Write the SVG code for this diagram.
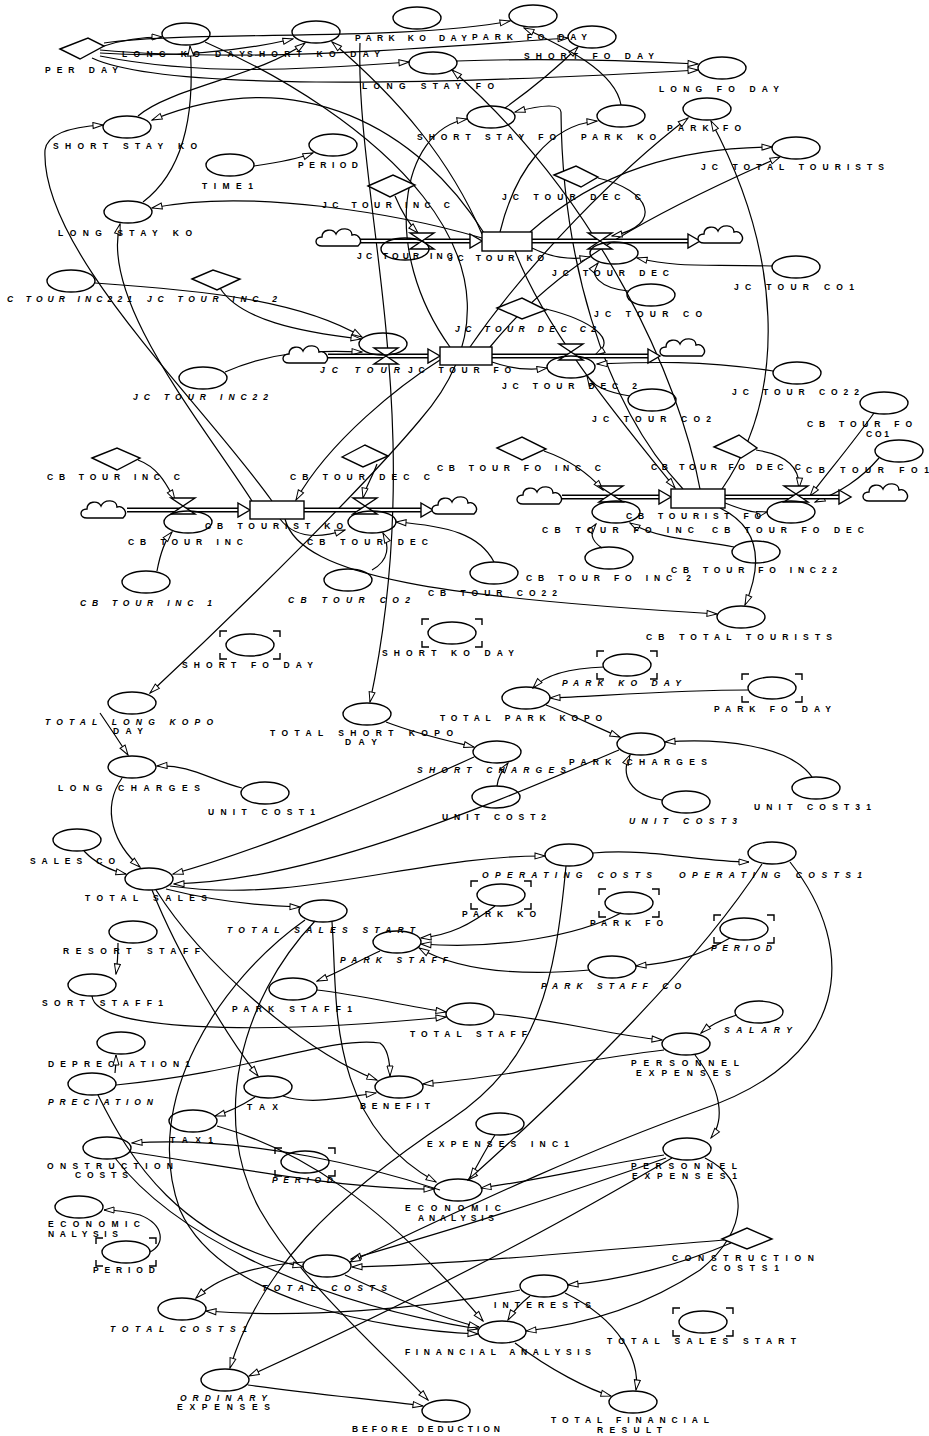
<svg xmlns="http://www.w3.org/2000/svg" width="929" height="1436" viewBox="0 0 929 1436">
<style>
text{font-family:"Liberation Sans",Arial,sans-serif;font-size:8.5px;font-weight:bold;fill:#000}
.i{font-style:italic}
.v{fill:none;stroke:#000;stroke-width:1.4}
.d{fill:#fff;stroke:#000;stroke-width:1.4}
.c path{fill:none;stroke:#000;stroke-width:1.2;marker-end:url(#ah)}
.p1{fill:none;stroke:#000;stroke-width:5}
.p2{fill:none;stroke:#fff;stroke-width:2}
</style>
<defs>
<marker id="ah" viewBox="0 0 12 8" refX="11" refY="4" markerWidth="12" markerHeight="8" markerUnits="userSpaceOnUse" orient="auto"><path d="M1,1 L11,4 L1,7 Z" fill="#fff" stroke="#000" stroke-width="1"/></marker>
<path id="cloud" class="d" d="M-18,7 C-26,7 -26,-2 -18,-2 C-18,-10 -7,-11 -4,-5 C-1,-12 12,-12 12,-4 C18,-6 24,2 18,7 Z"/>
<path id="valve" class="d" d="M-12,-8 H12 L-12,8 H12 Z"/>
<path id="parr" class="d" d="M-12,-7 L0,0 L-12,7 Z"/>
<path id="brk" fill="none" stroke="#000" stroke-width="1.4" d="M-30,-8 V-14 H-23 M23,-14 H30 V-8 M30,8 V14 H23 M-23,14 H-30 V8"/>
</defs>
<rect width="929" height="1436" fill="#fff"/>

<g id="connectors" class="c">
<path d="M104,46 Q132,37 162,37"/>
<path d="M100,53 Q200,60 293,39"/>
<path d="M92,58 C160,90 420,86 698,70"/>
<path d="M457,61 C540,58 620,60 698,64"/>
<path d="M104,43 C200,30 400,42 510,21"/>
<path d="M100,50 C260,64 450,46 568,38"/>
<path d="M143,202 C185,170 195,110 190,46"/>
<path d="M138,116 C170,88 260,76 305,43"/>
<path d="M484,233 C420,130 300,60 152,120"/>
<path d="M272,501 C200,400 40,250 45,150 Q48,128 103,125"/>
<path d="M252,501 C200,420 100,300 120,224"/>
<path d="M482,238 C400,214 250,188 152,208"/>
<path d="M360,43 C355,200 430,420 370,702"/>
<path d="M205,42 C360,110 560,260 420,420 C370,480 250,600 150,693"/>
<path d="M530,232 C600,170 680,148 772,147"/>
<path d="M490,347 C560,260 660,210 780,157"/>
<path d="M500,232 C515,170 550,125 597,121"/>
<path d="M470,347 C530,260 620,170 688,118"/>
<path d="M722,489 C790,390 780,250 711,121"/>
<path d="M683,489 C600,400 562,250 561,112 Q560,100 515,112"/>
<path d="M700,489 C680,380 600,200 452,70"/>
<path d="M505,108 C530,90 560,65 578,47"/>
<path d="M621,105 C615,70 560,45 524,28"/>
<path d="M100,56 C200,76 300,70 409,62"/>
<path d="M254,166 C275,163 295,160 313,153"/>
<path d="M482,234 C450,160 400,100 332,42"/>
<path d="M450,347 C380,250 400,130 467,119"/>
<path d="M395,196 Q405,220 418,233"/>
<path d="M598,178 C650,190 665,225 612,236"/>
<path d="M772,266 C700,264 680,268 637,258"/>
<path d="M628,291 C600,288 588,275 598,263"/>
<path d="M532,248 Q560,262 590,257"/>
<path d="M220,288 C240,320 300,332 361,339"/>
<path d="M95,283 C200,290 300,300 362,337"/>
<path d="M225,372 C270,352 310,350 362,352"/>
<path d="M546,309 C590,320 620,340 595,355"/>
<path d="M773,371 C700,360 650,362 597,364"/>
<path d="M630,396 C605,392 592,385 587,376"/>
<path d="M492,362 Q520,372 547,368"/>
<path d="M138,460 C160,468 168,488 175,500"/>
<path d="M157,571 C160,555 165,540 172,532"/>
<path d="M377,464 C372,478 365,488 363,498"/>
<path d="M372,570 C390,560 389,545 383,533"/>
<path d="M494,562 C480,535 450,526 396,522"/>
<path d="M280,519 Q300,545 345,530"/>
<path d="M285,519 C300,578 450,598 717,614"/>
<path d="M720,508 C765,530 760,570 745,605"/>
<path d="M544,451 C570,460 590,475 603,490"/>
<path d="M602,548 C590,540 590,532 596,524"/>
<path d="M734,547 C700,540 660,540 630,523"/>
<path d="M756,450 C790,455 800,470 799,488"/>
<path d="M874,413 C855,440 830,470 810,496"/>
<path d="M879,458 C860,480 840,492 815,502"/>
<path d="M725,503 Q755,515 767,512"/>
<path d="M440,360 C400,385 330,440 296,500"/>
<path d="M515,251 C545,330 620,420 675,488"/>
<path d="M100,713 Q115,735 128,755"/>
<path d="M242,788 C210,780 190,764 157,766"/>
<path d="M122,778 C100,810 115,845 140,867"/>
<path d="M84,851 Q100,868 126,874"/>
<path d="M474,757 C380,800 260,850 173,874"/>
<path d="M619,750 C500,800 320,880 174,884"/>
<path d="M170,886 C300,905 420,855 545,856"/>
<path d="M593,853 C650,848 700,862 749,862"/>
<path d="M166,889 Q230,905 300,907"/>
<path d="M386,722 C420,735 445,740 474,747"/>
<path d="M497,786 C498,776 503,770 508,763"/>
<path d="M546,705 C575,716 598,728 620,737"/>
<path d="M662,800 C630,795 620,775 630,755"/>
<path d="M812,777 C790,745 720,738 665,742"/>
<path d="M604,667 C570,668 545,675 533,688"/>
<path d="M748,690 C680,690 600,696 550,698"/>
<path d="M332,922 C338,1000 325,1120 436,1182"/>
<path d="M305,920 C220,980 140,1100 180,1210 C220,1300 380,1330 478,1334"/>
<path d="M315,921 C240,1000 210,1120 260,1210 C300,1280 380,1350 428,1400"/>
<path d="M152,890 C180,960 230,1040 258,1076"/>
<path d="M156,890 C200,960 300,1050 377,1080"/>
<path d="M730,938 C700,955 680,962 636,966"/>
<path d="M590,970 C520,976 460,972 419,948"/>
<path d="M495,906 C470,925 450,935 421,938"/>
<path d="M621,913 C580,935 500,950 421,944"/>
<path d="M380,951 C360,960 340,972 317,981"/>
<path d="M118,943 Q118,960 116,974"/>
<path d="M92,996 C95,1030 250,1036 446,1017"/>
<path d="M317,990 C360,995 400,1005 446,1012"/>
<path d="M494,1014 C560,1020 610,1035 662,1040"/>
<path d="M737,1015 C720,1020 710,1025 701,1033"/>
<path d="M664,1050 C580,1060 500,1078 423,1084"/>
<path d="M695,1055 C722,1090 725,1120 711,1138"/>
<path d="M115,1073 Q116,1065 116,1055"/>
<path d="M116,1085 C250,1072 330,1036 380,1043 Q390,1050 390,1076"/>
<path d="M283,1096 C310,1105 340,1098 376,1093"/>
<path d="M255,1097 Q235,1110 215,1116"/>
<path d="M217,1126 C300,1150 380,1200 483,1321"/>
<path d="M440,1190 C380,1170 250,1135 132,1143"/>
<path d="M98,1095 C130,1160 180,1240 303,1267"/>
<path d="M130,1152 C250,1170 350,1190 434,1189"/>
<path d="M115,1158 C170,1230 300,1300 478,1329"/>
<path d="M150,1252 C165,1245 165,1225 140,1215 Q120,1210 104,1210"/>
<path d="M664,1155 C600,1165 540,1180 481,1188"/>
<path d="M762,864 C700,960 580,1080 468,1180"/>
<path d="M566,866 C555,980 540,1060 450,1120 C330,1200 260,1270 230,1368"/>
<path d="M672,1158 C600,1200 480,1270 249,1376"/>
<path d="M248,1385 C320,1395 380,1400 423,1406"/>
<path d="M304,1262 C260,1265 220,1275 196,1298"/>
<path d="M520,1290 C420,1310 300,1318 206,1311"/>
<path d="M666,1158 C550,1200 450,1230 351,1259"/>
<path d="M724,1240 C600,1250 450,1265 352,1267"/>
<path d="M345,1275 C400,1300 440,1318 479,1327"/>
<path d="M530,1296 Q515,1308 508,1320"/>
<path d="M731,1243 C680,1265 620,1280 568,1285"/>
<path d="M705,1158 C750,1180 750,1230 700,1270 C640,1310 580,1325 526,1331"/>
<path d="M515,1343 C550,1370 590,1390 611,1396"/>
<path d="M565,1293 C620,1320 640,1360 636,1390"/>
<path d="M790,862 C860,950 850,1060 700,1110 C560,1160 420,1230 350,1262"/>
<path d="M495,1135 C485,1150 478,1165 470,1178"/>
</g>

<g id="flows">
<path class="p1" d="M360,241 H472 M532,241 H690"/><path class="p2" d="M360,241 H472 M532,241 H690"/>
<use href="#parr" x="482" y="241"/><use href="#parr" x="700" y="241"/>
<path class="p1" d="M328,356 H430 M492,356 H650"/><path class="p2" d="M328,356 H430 M492,356 H650"/>
<use href="#parr" x="440" y="356"/><use href="#parr" x="660" y="356"/>
<path class="p1" d="M127,510 H240 M304,510 H423"/><path class="p2" d="M127,510 H240 M304,510 H423"/>
<use href="#parr" x="250" y="510"/><use href="#parr" x="433" y="510"/>
<path class="p1" d="M562,497 H661 M725,497 H841"/><path class="p2" d="M562,497 H661 M725,497 H841"/>
<use href="#parr" x="671" y="497"/><use href="#parr" x="851" y="497"/>
</g>

<g id="clouds">
<use href="#cloud" x="340" y="239"/><use href="#cloud" x="722" y="236"/>
<use href="#cloud" x="307" y="356"/><use href="#cloud" x="684" y="349"/>
<use href="#cloud" x="105" y="511"/><use href="#cloud" x="456" y="507"/>
<use href="#cloud" x="541" y="497"/><use href="#cloud" x="887" y="494"/>
</g>

<g id="n-per-day"><polygon class="d" points="60,49 88,38 104,46 80,59"/><text x="45" y="73" textLength="73" lengthAdjust="spacing">PER DAY</text></g>
<g id="n-long-ko-day"><ellipse class="v" cx="186" cy="34" rx="24" ry="11"/><text x="122" y="57" textLength="123" lengthAdjust="spacing">LONG KO DAY</text></g>
<g id="n-short-ko-day"><ellipse class="v" cx="316" cy="32" rx="24" ry="11"/><text x="247" y="57" textLength="133" lengthAdjust="spacing">SHORT KO DAY</text></g>
<g id="n-park-ko-day"><ellipse class="v" cx="417" cy="18" rx="24" ry="11"/><text x="355" y="41" textLength="112" lengthAdjust="spacing">PARK KO DAY</text></g>
<g id="n-long-stay-fo"><ellipse class="v" cx="433" cy="63" rx="24" ry="11"/><text x="362" y="89" textLength="132" lengthAdjust="spacing">LONG STAY FO</text></g>
<g id="n-park-fo-day"><ellipse class="v" cx="533" cy="16" rx="24" ry="11"/><text x="472" y="40" textLength="115" lengthAdjust="spacing">PARK FO DAY</text></g>
<g id="n-short-fo-day"><ellipse class="v" cx="592" cy="37" rx="24" ry="11"/><text x="524" y="59" textLength="130" lengthAdjust="spacing">SHORT FO DAY</text></g>
<g id="n-long-fo-day"><ellipse class="v" cx="722" cy="68" rx="24" ry="11"/><text x="659" y="92" textLength="120" lengthAdjust="spacing">LONG FO DAY</text></g>
<g id="n-park-fo"><ellipse class="v" cx="707" cy="109" rx="24" ry="11"/><text x="667" y="131" textLength="74" lengthAdjust="spacing">PARK FO</text></g>
<g id="n-short-stay-fo"><ellipse class="v" cx="491" cy="117" rx="24" ry="11"/><text x="417" y="140" textLength="139" lengthAdjust="spacing">SHORT STAY FO</text></g>
<g id="n-park-ko"><ellipse class="v" cx="621" cy="116" rx="24" ry="11"/><text x="581" y="140" textLength="75" lengthAdjust="spacing">PARK KO</text></g>
<g id="n-jc-total-tourists"><ellipse class="v" cx="796" cy="148" rx="24" ry="11"/><text x="701" y="170" textLength="183" lengthAdjust="spacing">JC TOTAL TOURISTS</text></g>
<g id="n-short-stay-ko"><ellipse class="v" cx="127" cy="127" rx="24" ry="11"/><text x="53" y="149" textLength="144" lengthAdjust="spacing">SHORT STAY KO</text></g>
<g id="n-period"><ellipse class="v" cx="333" cy="145" rx="24" ry="11"/><text x="298" y="168" textLength="60" lengthAdjust="spacing">PERIOD</text></g>
<g id="n-time1"><ellipse class="v" cx="230" cy="165" rx="24" ry="11"/><text x="202" y="189" textLength="51" lengthAdjust="spacing">TIME1</text></g>
<g id="n-long-stay-ko"><ellipse class="v" cx="128" cy="212" rx="24" ry="11"/><text x="58" y="236" textLength="134" lengthAdjust="spacing">LONG STAY KO</text></g>
<g id="n-jc-tour-inc-c"><polygon class="d" points="368,186 393,175 415,185 390,197"/><text x="322" y="208" textLength="128" lengthAdjust="spacing">JC TOUR INC C</text></g>
<g id="n-jc-tour-dec-c"><polygon class="d" points="554,175 576,166 598,177 581,187"/><text x="502" y="200" textLength="139" lengthAdjust="spacing">JC TOUR DEC C</text></g>
<g id="n-jc-tour-ko"><rect class="d" x="482" y="232" width="50" height="19"/><text x="448" y="261" textLength="96" lengthAdjust="spacing">JC TOUR KO</text></g>
<g id="n-jc-tour-inc"><use href="#valve" x="422" y="241"/><ellipse class="v" cx="405" cy="249" rx="24" ry="11"/><text x="357" y="259" textLength="96" lengthAdjust="spacing">JC TOUR INC</text></g>
<g id="n-jc-tour-dec"><use href="#valve" x="600" y="241"/><ellipse class="v" cx="614" cy="253" rx="24" ry="11"/><text x="552" y="276" textLength="117" lengthAdjust="spacing">JC TOUR DEC</text></g>
<g id="n-jc-tour-co"><ellipse class="v" cx="651" cy="295" rx="24" ry="11"/><text x="594" y="317" textLength="108" lengthAdjust="spacing">JC TOUR CO</text></g>
<g id="n-jc-tour-co1"><ellipse class="v" cx="796" cy="267" rx="24" ry="11"/><text x="734" y="290" textLength="120" lengthAdjust="spacing">JC TOUR CO1</text></g>
<g id="n-jc-tour-inc221"><ellipse class="v" cx="71" cy="281" rx="24" ry="11"/><text class="i" x="7" y="302" textLength="125" lengthAdjust="spacing">C TOUR INC221</text></g>
<g id="n-jc-tour-inc-c2"><polygon class="d" points="192,279 213,270 240,279 217,290"/><text class="i" x="147" y="302" textLength="130" lengthAdjust="spacing">JC TOUR INC 2</text></g>
<g id="n-jc-tour-inc22"><ellipse class="v" cx="203" cy="378" rx="24" ry="11"/><text class="i" x="133" y="400" textLength="135" lengthAdjust="spacing">JC TOUR INC22</text></g>
<g id="n-jc-tour-inc2"><use href="#valve" x="386" y="356"/><ellipse class="v" cx="383" cy="344" rx="24" ry="11"/><text class="i" x="320" y="373" textLength="80" lengthAdjust="spacing">JC TOUR</text></g>
<g id="n-jc-tour-fo"><rect class="d" x="440" y="347" width="52" height="18"/><text x="408" y="373" textLength="103" lengthAdjust="spacing">JC TOUR FO</text></g>
<g id="n-jc-tour-dec-c2"><polygon class="d" points="497,308 522,298 546,310 522,319"/><text class="i" x="455" y="332" textLength="141" lengthAdjust="spacing">JC TOUR DEC C2</text></g>
<g id="n-jc-tour-dec2"><use href="#valve" x="571" y="352"/><ellipse class="v" cx="571" cy="367" rx="24" ry="11"/><text x="502" y="389" textLength="135" lengthAdjust="spacing">JC TOUR DEC 2</text></g>
<g id="n-jc-tour-co2"><ellipse class="v" cx="652" cy="400" rx="24" ry="11"/><text x="592" y="422" textLength="119" lengthAdjust="spacing">JC TOUR CO2</text></g>
<g id="n-jc-tour-co22"><ellipse class="v" cx="797" cy="373" rx="24" ry="11"/><text x="732" y="395" textLength="127" lengthAdjust="spacing">JC TOUR CO22</text></g>

<g id="n-cb-tour-inc-c"><polygon class="d" points="92,458 117,448 140,458 117,470"/><text x="47" y="480" textLength="133" lengthAdjust="spacing">CB TOUR INC C</text></g>
<g id="n-cb-tour-dec-c"><polygon class="d" points="342,457 365,445 388,456 363,467"/><text x="290" y="480" textLength="140" lengthAdjust="spacing">CB TOUR DEC C</text></g>
<g id="n-cb-tour-fo-inc-c"><polygon class="d" points="497,448 522,437 546,449 522,460"/><text x="437" y="471" textLength="164" lengthAdjust="spacing">CB TOUR FO INC C</text></g>
<g id="n-cb-tour-fo-dec-c"><polygon class="d" points="714,447 739,435 757,448 741,458"/><text x="651" y="470" textLength="150" lengthAdjust="spacing">CB TOUR FO DEC C</text></g>
<g id="n-cb-tour-fo-co1"><ellipse class="v" cx="884" cy="403" rx="24" ry="11"/><text x="807" y="427" textLength="105" lengthAdjust="spacing">CB TOUR FO</text><text x="866" y="437" textLength="23" lengthAdjust="spacing">CO1</text></g>
<g id="n-cb-tour-fo1"><ellipse class="v" cx="899" cy="451" rx="24" ry="11"/><text x="806" y="473" textLength="123" lengthAdjust="spacing">CB TOUR FO1</text></g>
<g id="n-cb-tourist-ko"><rect class="d" x="250" y="501" width="54" height="18"/><text x="205" y="529" textLength="138" lengthAdjust="spacing">CB TOURIST KO</text></g>
<g id="n-cb-tour-inc"><use href="#valve" x="183" y="506"/><ellipse class="v" cx="188" cy="522" rx="24" ry="11"/><text x="128" y="545" textLength="115" lengthAdjust="spacing">CB TOUR INC</text></g>
<g id="n-cb-tour-dec"><use href="#valve" x="365" y="506"/><ellipse class="v" cx="372" cy="522" rx="24" ry="11"/><text x="307" y="545" textLength="121" lengthAdjust="spacing">CB TOUR DEC</text></g>
<g id="n-cb-tour-inc1"><ellipse class="v" cx="146" cy="582" rx="24" ry="11"/><text class="i" x="80" y="606" textLength="132" lengthAdjust="spacing">CB TOUR INC 1</text></g>
<g id="n-cb-tour-co2"><ellipse class="v" cx="348" cy="580" rx="24" ry="11"/><text class="i" x="288" y="603" textLength="122" lengthAdjust="spacing">CB TOUR CO2</text></g>
<g id="n-cb-tour-co22"><ellipse class="v" cx="494" cy="573" rx="24" ry="11"/><text x="428" y="596" textLength="129" lengthAdjust="spacing">CB TOUR CO22</text></g>
<g id="n-cb-tourist-fo"><rect class="d" x="671" y="489" width="54" height="19"/><text x="626" y="519" textLength="135" lengthAdjust="spacing">CB TOURIST FO</text></g>
<g id="n-cb-tour-fo-inc"><use href="#valve" x="611" y="494"/><ellipse class="v" cx="616" cy="512" rx="24" ry="11"/><text x="542" y="533" textLength="152" lengthAdjust="spacing">CB TOUR FO INC</text></g>
<g id="n-cb-tour-fo-dec"><use href="#valve" x="796" y="494"/><ellipse class="v" cx="791" cy="512" rx="24" ry="11"/><text x="712" y="533" textLength="152" lengthAdjust="spacing">CB TOUR FO DEC</text></g>
<g id="n-cb-tour-fo-inc2"><ellipse class="v" cx="609" cy="558" rx="24" ry="11"/><text x="526" y="581" textLength="165" lengthAdjust="spacing">CB TOUR FO INC 2</text></g>
<g id="n-cb-tour-fo-inc22"><ellipse class="v" cx="756" cy="552" rx="24" ry="11"/><text x="671" y="573" textLength="166" lengthAdjust="spacing">CB TOUR FO INC22</text></g>
<g id="n-cb-total-tourists"><ellipse class="v" cx="741" cy="617" rx="24" ry="11"/><text x="646" y="640" textLength="186" lengthAdjust="spacing">CB TOTAL TOURISTS</text></g>

<g id="n-short-fo-day-s"><ellipse class="v" cx="250" cy="645" rx="24" ry="11"/><use href="#brk" x="250" y="645"/><text x="182" y="668" textLength="131" lengthAdjust="spacing">SHORT FO DAY</text></g>
<g id="n-short-ko-day-s"><ellipse class="v" cx="452" cy="633" rx="24" ry="11"/><use href="#brk" x="452" y="633"/><text x="382" y="656" textLength="132" lengthAdjust="spacing">SHORT KO DAY</text></g>
<g id="n-park-ko-day-s"><ellipse class="v" cx="627" cy="665" rx="24" ry="11"/><use href="#brk" x="627" y="665"/><text class="i" x="562" y="686" textLength="119" lengthAdjust="spacing">PARK KO DAY</text></g>
<g id="n-park-fo-day-s"><ellipse class="v" cx="772" cy="688" rx="24" ry="11"/><use href="#brk" x="772" y="688"/><text x="714" y="712" textLength="117" lengthAdjust="spacing">PARK FO DAY</text></g>
<g id="n-total-long-kopo-day"><ellipse class="v" cx="132" cy="703" rx="24" ry="11"/><text class="i" x="45" y="725" textLength="168" lengthAdjust="spacing">TOTAL LONG KOPO</text><text x="113" y="734" textLength="30" lengthAdjust="spacing">DAY</text></g>
<g id="n-total-short-kopo-day"><ellipse class="v" cx="367" cy="714" rx="24" ry="11"/><text x="270" y="736" textLength="183" lengthAdjust="spacing">TOTAL SHORT KOPO</text><text x="345" y="745" textLength="32" lengthAdjust="spacing">DAY</text></g>
<g id="n-total-park-kopo"><ellipse class="v" cx="526" cy="698" rx="24" ry="11"/><text x="440" y="721" textLength="162" lengthAdjust="spacing">TOTAL PARK KOPO</text></g>
<g id="n-long-charges"><ellipse class="v" cx="132" cy="767" rx="24" ry="11"/><text x="58" y="791" textLength="142" lengthAdjust="spacing">LONG CHARGES</text></g>
<g id="n-unit-cost1"><ellipse class="v" cx="265" cy="793" rx="24" ry="11"/><text x="208" y="815" textLength="107" lengthAdjust="spacing">UNIT COST1</text></g>
<g id="n-short-charges"><ellipse class="v" cx="497" cy="752" rx="24" ry="11"/><text class="i" x="417" y="773" textLength="149" lengthAdjust="spacing">SHORT CHARGES</text></g>
<g id="n-park-charges"><ellipse class="v" cx="641" cy="744" rx="24" ry="11"/><text x="569" y="765" textLength="138" lengthAdjust="spacing">PARK CHARGES</text></g>
<g id="n-unit-cost2"><ellipse class="v" cx="496" cy="797" rx="24" ry="11"/><text x="442" y="820" textLength="104" lengthAdjust="spacing">UNIT COST2</text></g>
<g id="n-unit-cost3"><ellipse class="v" cx="686" cy="802" rx="24" ry="11"/><text class="i" x="629" y="824" textLength="108" lengthAdjust="spacing">UNIT COST3</text></g>
<g id="n-unit-cost31"><ellipse class="v" cx="816" cy="788" rx="24" ry="11"/><text x="754" y="810" textLength="117" lengthAdjust="spacing">UNIT COST31</text></g>
<g id="n-sales-co"><ellipse class="v" cx="77" cy="840" rx="24" ry="11"/><text x="30" y="864" textLength="85" lengthAdjust="spacing">SALES CO</text></g>
<g id="n-total-sales"><ellipse class="v" cx="149" cy="879" rx="24" ry="11"/><text x="85" y="901" textLength="122" lengthAdjust="spacing">TOTAL SALES</text></g>
<g id="n-total-sales-start"><ellipse class="v" cx="323" cy="911" rx="24" ry="11"/><text class="i" x="227" y="933" textLength="188" lengthAdjust="spacing">TOTAL SALES START</text></g>
<g id="n-operating-costs"><ellipse class="v" cx="569" cy="855" rx="24" ry="11"/><text class="i" x="482" y="878" textLength="170" lengthAdjust="spacing">OPERATING COSTS</text></g>
<g id="n-operating-costs1"><ellipse class="v" cx="772" cy="853" rx="24" ry="11"/><text class="i" x="679" y="878" textLength="183" lengthAdjust="spacing">OPERATING COSTS1</text></g>
<g id="n-park-ko-s"><ellipse class="v" cx="501" cy="895" rx="24" ry="11"/><use href="#brk" x="501" y="895"/><text x="462" y="917" textLength="74" lengthAdjust="spacing">PARK KO</text></g>
<g id="n-park-fo-s"><ellipse class="v" cx="629" cy="903" rx="24" ry="11"/><use href="#brk" x="629" y="903"/><text x="590" y="926" textLength="73" lengthAdjust="spacing">PARK FO</text></g>
<g id="n-period-s2"><ellipse class="v" cx="744" cy="929" rx="24" ry="11"/><use href="#brk" x="744" y="929"/><text class="i" x="711" y="951" textLength="61" lengthAdjust="spacing">PERIOD</text></g>
<g id="n-park-staff"><ellipse class="v" cx="397" cy="942" rx="24" ry="11"/><text class="i" x="340" y="963" textLength="108" lengthAdjust="spacing">PARK STAFF</text></g>
<g id="n-resort-staff"><ellipse class="v" cx="133" cy="932" rx="24" ry="11"/><text x="63" y="954" textLength="137" lengthAdjust="spacing">RESORT STAFF</text></g>
<g id="n-park-staff-co"><ellipse class="v" cx="612" cy="967" rx="24" ry="11"/><text class="i" x="541" y="989" textLength="140" lengthAdjust="spacing">PARK STAFF CO</text></g>
<g id="n-resort-staff1"><ellipse class="v" cx="92" cy="985" rx="24" ry="11"/><text x="42" y="1006" textLength="121" lengthAdjust="spacing">SORT STAFF1</text></g>
<g id="n-park-staff1"><ellipse class="v" cx="293" cy="989" rx="24" ry="11"/><text x="232" y="1012" textLength="120" lengthAdjust="spacing">PARK STAFF1</text></g>
<g id="n-total-staff"><ellipse class="v" cx="470" cy="1014" rx="24" ry="11"/><text x="410" y="1037" textLength="117" lengthAdjust="spacing">TOTAL STAFF</text></g>
<g id="n-salary"><ellipse class="v" cx="759" cy="1012" rx="24" ry="11"/><text class="i" x="724" y="1033" textLength="68" lengthAdjust="spacing">SALARY</text></g>
<g id="n-personnel-expenses"><ellipse class="v" cx="686" cy="1044" rx="24" ry="11"/><text x="631" y="1066" textLength="108" lengthAdjust="spacing">PERSONNEL</text><text x="636" y="1076" textLength="95" lengthAdjust="spacing">EXPENSES</text></g>
<g id="n-depreciation1"><ellipse class="v" cx="121" cy="1043" rx="24" ry="11"/><text x="48" y="1067" textLength="142" lengthAdjust="spacing">DEPRECIATION1</text></g>
<g id="n-depreciation"><ellipse class="v" cx="92" cy="1084" rx="24" ry="11"/><text class="i" x="48" y="1105" textLength="105" lengthAdjust="spacing">PRECIATION</text></g>
<g id="n-tax"><ellipse class="v" cx="268" cy="1087" rx="24" ry="11"/><text x="247" y="1110" textLength="31" lengthAdjust="spacing">TAX</text></g>
<g id="n-benefit"><ellipse class="v" cx="399" cy="1087" rx="24" ry="11"/><text x="360" y="1109" textLength="70" lengthAdjust="spacing">BENEFIT</text></g>
<g id="n-tax1"><ellipse class="v" cx="193" cy="1121" rx="24" ry="11"/><text x="170" y="1143" textLength="43" lengthAdjust="spacing">TAX1</text></g>
<g id="n-expenses-inc1"><ellipse class="v" cx="500" cy="1124" rx="24" ry="11"/><text x="427" y="1147" textLength="142" lengthAdjust="spacing">EXPENSES INC1</text></g>
<g id="n-construction-costs"><ellipse class="v" cx="107" cy="1148" rx="24" ry="11"/><text x="47" y="1169" textLength="126" lengthAdjust="spacing">ONSTRUCTION</text><text x="75" y="1178" textLength="53" lengthAdjust="spacing">COSTS</text></g>
<g id="n-period-s3"><ellipse class="v" cx="305" cy="1162" rx="24" ry="11"/><use href="#brk" x="305" y="1162"/><text class="i" x="272" y="1183" textLength="61" lengthAdjust="spacing">PERIOD</text></g>
<g id="n-personnel-expenses1"><ellipse class="v" cx="687" cy="1149" rx="24" ry="11"/><text x="631" y="1169" textLength="106" lengthAdjust="spacing">PERSONNEL</text><text x="632" y="1179" textLength="105" lengthAdjust="spacing">EXPENSES1</text></g>
<g id="n-economic-analysis"><ellipse class="v" cx="458" cy="1190" rx="24" ry="11"/><text x="405" y="1211" textLength="96" lengthAdjust="spacing">ECONOMIC</text><text x="418" y="1221" textLength="76" lengthAdjust="spacing">ANALYSIS</text></g>
<g id="n-economic-analysis-left"><ellipse class="v" cx="79" cy="1207" rx="24" ry="11"/><text x="48" y="1227" textLength="92" lengthAdjust="spacing">ECONOMIC</text><text x="48" y="1237" textLength="70" lengthAdjust="spacing">NALYSIS</text></g>
<g id="n-period-s4"><ellipse class="v" cx="126" cy="1252" rx="24" ry="11"/><use href="#brk" x="126" y="1252"/><text x="93" y="1273" textLength="62" lengthAdjust="spacing">PERIOD</text></g>
<g id="n-construction-costs1"><polygon class="d" points="722,1239 747,1228 772,1239 747,1249"/><text x="672" y="1261" textLength="142" lengthAdjust="spacing">CONSTRUCTION</text><text x="711" y="1271" textLength="68" lengthAdjust="spacing">COSTS1</text></g>
<g id="n-total-costs"><ellipse class="v" cx="327" cy="1266" rx="24" ry="11"/><text class="i" x="262" y="1291" textLength="125" lengthAdjust="spacing">TOTAL COSTS</text></g>
<g id="n-interests"><ellipse class="v" cx="544" cy="1286" rx="24" ry="11"/><text x="494" y="1308" textLength="97" lengthAdjust="spacing">INTERESTS</text></g>
<g id="n-total-costs1"><ellipse class="v" cx="182" cy="1309" rx="24" ry="11"/><text class="i" x="110" y="1332" textLength="137" lengthAdjust="spacing">TOTAL COSTS1</text></g>
<g id="n-financial-analysis"><ellipse class="v" cx="502" cy="1332" rx="24" ry="11"/><text x="405" y="1355" textLength="186" lengthAdjust="spacing">FINANCIAL ANALYSIS</text></g>
<g id="n-total-sales-start-s"><ellipse class="v" cx="703" cy="1322" rx="24" ry="11"/><use href="#brk" x="703" y="1322"/><text x="607" y="1344" textLength="189" lengthAdjust="spacing">TOTAL SALES START</text></g>
<g id="n-ordinary-expenses"><ellipse class="v" cx="225" cy="1380" rx="24" ry="11"/><text class="i" x="180" y="1401" textLength="87" lengthAdjust="spacing">ORDINARY</text><text x="177" y="1410" textLength="93" lengthAdjust="spacing">EXPENSES</text></g>
<g id="n-before-deduction"><ellipse class="v" cx="446" cy="1411" rx="24" ry="11"/><text x="352" y="1432" textLength="148" lengthAdjust="spacing">BEFORE DEDUCTION</text></g>
<g id="n-total-financial-result"><ellipse class="v" cx="633" cy="1402" rx="24" ry="11"/><text x="551" y="1423" textLength="158" lengthAdjust="spacing">TOTAL FINANCIAL</text><text x="597" y="1433" textLength="65" lengthAdjust="spacing">RESULT</text></g>
</svg>
